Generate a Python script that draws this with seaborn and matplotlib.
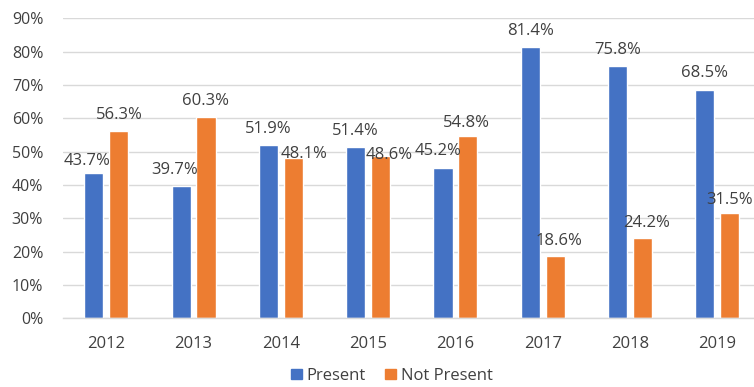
import matplotlib
matplotlib.use("Agg")
import matplotlib.pyplot as plt
import seaborn as sns
import pandas as pd

# Share of cases by year
years = ["2012", "2013", "2014", "2015", "2016", "2017", "2018", "2019"]
present = [43.7, 39.7, 51.9, 51.4, 45.2, 81.4, 75.8, 68.5]
not_present = [56.3, 60.3, 48.1, 48.6, 54.8, 18.6, 24.2, 31.5]
series = ["Present", "Not Present"]
y_ticks = [0, 10, 20, 30, 40, 50, 60, 70, 80, 90]

# Label nudges in pixels (dx, dy from the top centre of each bar)
label_nudge = {
    "Present": [(-7, 11.5), (-6, 15.5), (0, 16), (0, 16.3), (-5, 16.3), (0, 16.2), (0, 16), (0, 16.7)],
    "Not Present": [(0.5, 15.3), (0, 16), (10.4, 3.5), (9, 0.8), (-1, 12.3), (3.8, 15), (4, 15), (0, 13.3)],
}

df = pd.DataFrame({
    "year": years * 2,
    "status": [series[0]] * len(years) + [series[1]] * len(years),
    "value": present + not_present,
})

sns.set_theme(style="white")
plt.rcParams["font.family"] = ["Open Sans", "DejaVu Sans"]
text_color = "#404040"
grid_color = "#D9D9D9"
palette = {"Present": "#4472C4", "Not Present": "#ED7D31"}

W, H = 754, 387
fig = plt.figure(figsize=(W / 100, H / 100), dpi=100)
left, right, top, bottom = 62.6, 754, 18.3, 318.3
ax = fig.add_axes([left / W, 1 - bottom / H, (right - left) / W, (bottom - top) / H])

sns.barplot(data=df, x="year", y="value", hue="status", hue_order=series,
            palette=palette, width=0.57, gap=0.235, saturation=1,
            ax=ax, legend=False)

ax.set_xlim(-0.5, -0.5 + (right - left) / 87.3)
ax.set_ylim(0, 90)
ax.set_yticks(y_ticks)
ax.set_yticklabels([f"{t}%" for t in y_ticks])
ax.yaxis.grid(True, color=grid_color, linewidth=1)
ax.set_axisbelow(True)
for s in ["top", "right", "left"]:
    ax.spines[s].set_visible(False)
ax.spines["bottom"].set_color(grid_color)
ax.spines["bottom"].set_linewidth(1)
ax.tick_params(axis="both", length=0, labelsize=12, colors=text_color)
ax.tick_params(axis="y", pad=14, labelsize=11.5)
ax.tick_params(axis="x", pad=13)
ax.set_xlabel("")
ax.set_ylabel("")

px = 0.72  # points per pixel at 100 dpi
for container, name in zip(ax.containers, series):
    for bar, (dx, dy) in zip(container, label_nudge[name]):
        h = bar.get_height()
        ax.annotate(f"{h:.1f}%", xy=(bar.get_x() + bar.get_width() / 2, h),
                    xytext=(dx * px, dy * px), textcoords="offset points",
                    ha="center", va="center", fontsize=12, color=text_color)

handles = [plt.Rectangle((0, 0), 1, 1, color=palette[s]) for s in series]
fig.legend(handles, series, loc="center", bbox_to_anchor=(391.7 / W, 1 - 376 / H),
           ncol=2, frameon=False, fontsize=12, labelcolor=text_color,
           handlelength=0.66, handleheight=0.6, handletextpad=0.25,
           columnspacing=1.2)

fig.savefig("out.png", dpi=100)
